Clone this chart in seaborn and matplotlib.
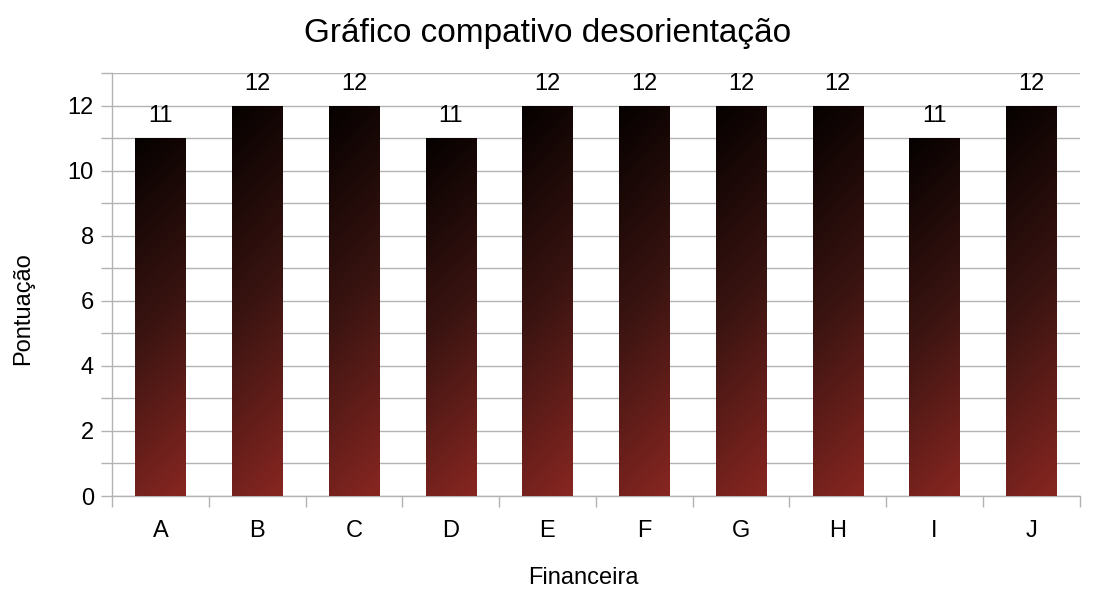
import numpy as np
import pandas as pd
import matplotlib
matplotlib.use("Agg")
import matplotlib.pyplot as plt
from matplotlib.colors import LinearSegmentedColormap
from matplotlib.ticker import MultipleLocator
import seaborn as sns

# Scores per financial institution
categories = ["A", "B", "C", "D", "E", "F", "G", "H", "I", "J"]
scores = [11, 12, 12, 11, 12, 12, 12, 12, 11, 12]

sns.set_theme(style="white")
plt.rcParams["font.family"] = ["Liberation Sans", "DejaVu Sans"]
plt.rcParams["text.color"] = "black"
plt.rcParams["axes.labelcolor"] = "black"

df = pd.DataFrame({"Financeira": categories, "Pontuação": scores})

fig = plt.figure(figsize=(10.95, 5.9), dpi=100)
ax = fig.add_axes([0.1023, 0.1593, 0.8837, 0.7167])

sns.barplot(data=df, x="Financeira", y="Pontuação", width=0.52,
            color="#5a1a14", ax=ax, zorder=3)

ax.set_xlim(-0.5, len(categories) - 0.5)
ax.set_ylim(0, 13)

# Diagonal dark-to-maroon gradient painted inside each bar
cmap = LinearSegmentedColormap.from_list("grad", ["#050100", "#3a1411", "#882621"])
n = 256
yy, xx = np.mgrid[0:1:n * 1j, 0:1:n * 1j]
grad = 0.88 * yy + 0.12 * xx
for p in ax.patches:
    x0, y0 = p.get_x(), p.get_y()
    w, h = p.get_width(), p.get_height()
    p.set_facecolor("none")
    p.set_edgecolor("none")
    im = ax.imshow(grad, cmap=cmap, aspect="auto",
                   extent=[x0, x0 + w, y0, y0 + h], origin="upper",
                   zorder=3, interpolation="bilinear", vmin=0, vmax=1)
    im.set_clip_path(p)
    ax.text(x0 + w / 2, y0 + h + 0.33, f"{int(h)}", ha="center", va="bottom",
            fontsize=17, color="black", zorder=4)

ax.set_xlim(-0.5, len(categories) - 0.5)
ax.set_ylim(0, 13)

# Grid at every unit, labels every two
ax.yaxis.set_major_locator(MultipleLocator(2))
ax.yaxis.set_minor_locator(MultipleLocator(1))
ax.grid(True, which="both", axis="y", color="#b3b3b3", linewidth=1, zorder=0)
ax.grid(False, axis="x")
ax.set_axisbelow(True)

ax.tick_params(axis="y", which="both", direction="out", length=8, width=1,
               color="#b3b3b3", labelcolor="black", labelsize=17, pad=5, left=True)

# Category boundary ticks on the x axis, labels centred
ax.set_xticks(np.arange(len(categories)))
ax.set_xticklabels(categories)
ax.set_xticks(np.arange(-0.5, len(categories), 1.0), minor=True)
ax.tick_params(axis="x", which="major", length=0, labelsize=17, pad=17.5,
               labelcolor="black")
ax.tick_params(axis="x", which="minor", direction="out", length=8, width=1,
               color="#b3b3b3", bottom=True)

for side in ["top", "right"]:
    ax.spines[side].set_visible(False)
ax.spines["left"].set_color("#b3b3b3")
ax.spines["bottom"].set_color("#b3b3b3")
ax.spines["left"].set_linewidth(1)
ax.spines["bottom"].set_linewidth(1)

ax.set_xlabel("Financeira", fontsize=17)
ax.xaxis.label.set_va("center")
ax.xaxis.set_label_coords(0.4876, -0.194)
ax.set_ylabel("Pontuação", fontsize=17)
ax.yaxis.set_label_coords(-0.081, 0.442)
fig.suptitle("Gráfico compativo desorientação", fontsize=24, y=0.97, va="top")

fig.savefig("out.png", dpi=100)
